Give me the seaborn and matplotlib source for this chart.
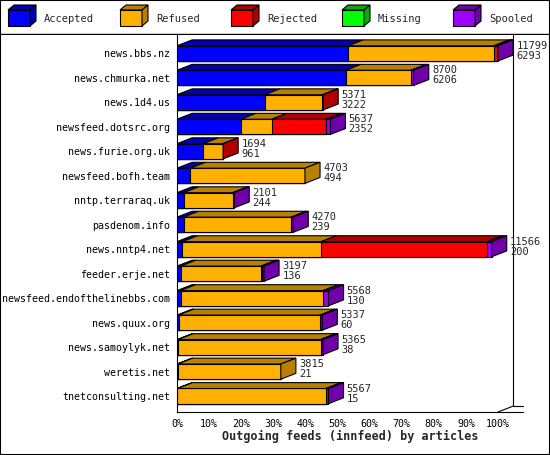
import matplotlib
matplotlib.use("Agg")
import matplotlib.pyplot as plt
import numpy as np
import pandas as pd
import seaborn as sns
from matplotlib.patches import Polygon, Rectangle

hosts = ["news.bbs.nz", "news.chmurka.net", "news.1d4.us", "newsfeed.dotsrc.org",
         "news.furie.org.uk", "newsfeed.bofh.team", "nntp.terraraq.uk", "pasdenom.info",
         "news.nntp4.net", "feeder.erje.net", "newsfeed.endofthelinebbs.com",
         "news.quux.org", "news.samoylyk.net", "weretis.net", "tnetconsulting.net"]
accepted = [6293, 6206, 3222, 2352, 961, 494, 244, 239, 200, 136, 130, 60, 38, 21, 15]
refused = [5355, 2392, 2120, 1128, 725, 4209, 1800, 3950, 5103, 2953, 5246, 5200, 5240, 3794, 5460]
rejected = [110, 0, 29, 1993, 8, 0, 0, 0, 6100, 40, 0, 0, 0, 0, 0]
missing = [0, 0, 0, 0, 0, 0, 0, 0, 0, 0, 0, 0, 0, 0, 0]
spooled = [41, 102, 0, 164, 0, 0, 57, 81, 163, 68, 192, 77, 87, 0, 92]
totals = [11799, 8700, 5371, 5637, 1694, 4703, 2101, 4270, 11566, 3197, 5568, 5337, 5365, 3815, 5567]

names = ["Accepted", "Refused", "Rejected", "Missing", "Spooled"]
front = ["#0000ff", "#ffb000", "#ff0000", "#00ff00", "#a000ff"]
shade = ["#0000b0", "#b88000", "#b00000", "#00b000", "#7000aa"]

series = [accepted, refused, rejected, missing, spooled]
scale = 100.0 / max(totals)
cum = np.cumsum(np.array(series, dtype=float), axis=0) * scale

sns.set_style("white")
plt.rcParams["font.family"] = ["DejaVu Sans Mono"]
plt.rcParams["font.size"] = 7.5

fig = plt.figure(figsize=(5.5, 4.55), dpi=100)
W, H = 550, 455
ax = fig.add_axes([177 / W, 1 - 412 / H, (523 - 177) / W, (412 - 35) / H])
xmax = (523 - 177) / 321 * 100
dx = 4.7
dy = 0.24
h = 0.62

for i in range(4, -1, -1):
    df = pd.DataFrame({"host": hosts, "v": cum[i]})
    sns.barplot(data=df, x="v", y="host", orient="h", color=front[i], ax=ax,
                width=h, edgecolor="black", linewidth=0.8, saturation=1, zorder=3)

ax.set_xlim(0, xmax)
ax.set_ylim(len(hosts) - 0.35, -0.75)
ax.set_xticks(np.arange(0, 101, 10))
ax.set_xticklabels([f"{t}%" for t in range(0, 101, 10)])
ax.set_xlabel("Outgoing feeds (innfeed) by articles", fontweight="bold", fontsize=8.5, labelpad=1)
ax.set_ylabel("")
ax.tick_params(axis="both", length=3, pad=2, colors="black", labelsize=7.2)
for s in ["top", "right"]:
    ax.spines[s].set_visible(False)
for s in ["left", "bottom"]:
    ax.spines[s].set_color("black")
    ax.spines[s].set_linewidth(0.8)

# 3D faces on top and right ends
for r in range(len(hosts)):
    y0 = r - h / 2
    prev = 0.0
    last = None
    for i in range(5):
        x1 = cum[i][r]
        if x1 - prev > 0:
            ax.add_patch(Polygon([(prev, y0), (x1, y0), (x1 + dx, y0 - dy), (prev + dx, y0 - dy)],
                                 closed=True, fc=shade[i], ec="black", lw=0.8, zorder=4))
            last = i
        prev = x1
    end = cum[4][r]
    ax.add_patch(Polygon([(end, y0), (end + dx, y0 - dy), (end + dx, y0 + h - dy), (end, y0 + h)],
                         closed=True, fc=shade[last], ec="black", lw=0.8, zorder=4))
    ax.text(end + dx + 1, r - 0.1, str(totals[r]), va="bottom", ha="left", fontsize=7.5, zorder=5)
    ax.text(end + dx + 1, r - 0.1, str(accepted[r]), va="top", ha="left", fontsize=7.5, zorder=5)

# back wall / floor lines
ybot = len(hosts) - 0.35
ax.plot([100, 100 + dx], [ybot, ybot - dy], color="black", lw=0.8, clip_on=False, zorder=2)
ax.plot([100 + dx, 100 + dx], [ybot - dy, -0.75], color="black", lw=0.8, clip_on=False, zorder=2)
ax.plot([100 + dx, xmax], [ybot - dy, ybot - dy], color="black", lw=0.8, clip_on=False, zorder=2)

# legend strip
lax = fig.add_axes([0, 1 - 35 / H, 1, 35 / H])
lax.set_xlim(0, W)
lax.set_ylim(35, 0)
lax.axis("off")
lax.plot([0, W], [34, 34], color="black", lw=1)
xs = [8, 120, 231, 342, 453]
for i, n in enumerate(names):
    x = xs[i]
    lax.add_patch(Rectangle((x, 10), 22, 16, fc=front[i], ec="black", lw=0.8))
    lax.add_patch(Polygon([(x, 10), (x + 6, 5), (x + 28, 5), (x + 22, 10)], fc=shade[i], ec="black", lw=0.8))
    lax.add_patch(Polygon([(x + 22, 10), (x + 28, 5), (x + 28, 21), (x + 22, 26)], fc=shade[i], ec="black", lw=0.8))
    lax.text(x + 36, 19, n, va="center", ha="left", fontsize=7.5)

fig.patches.append(Rectangle((0, 0), 1, 1, transform=fig.transFigure, fill=False, ec="black", lw=1.5))
fig.savefig("out.png", dpi=100)
